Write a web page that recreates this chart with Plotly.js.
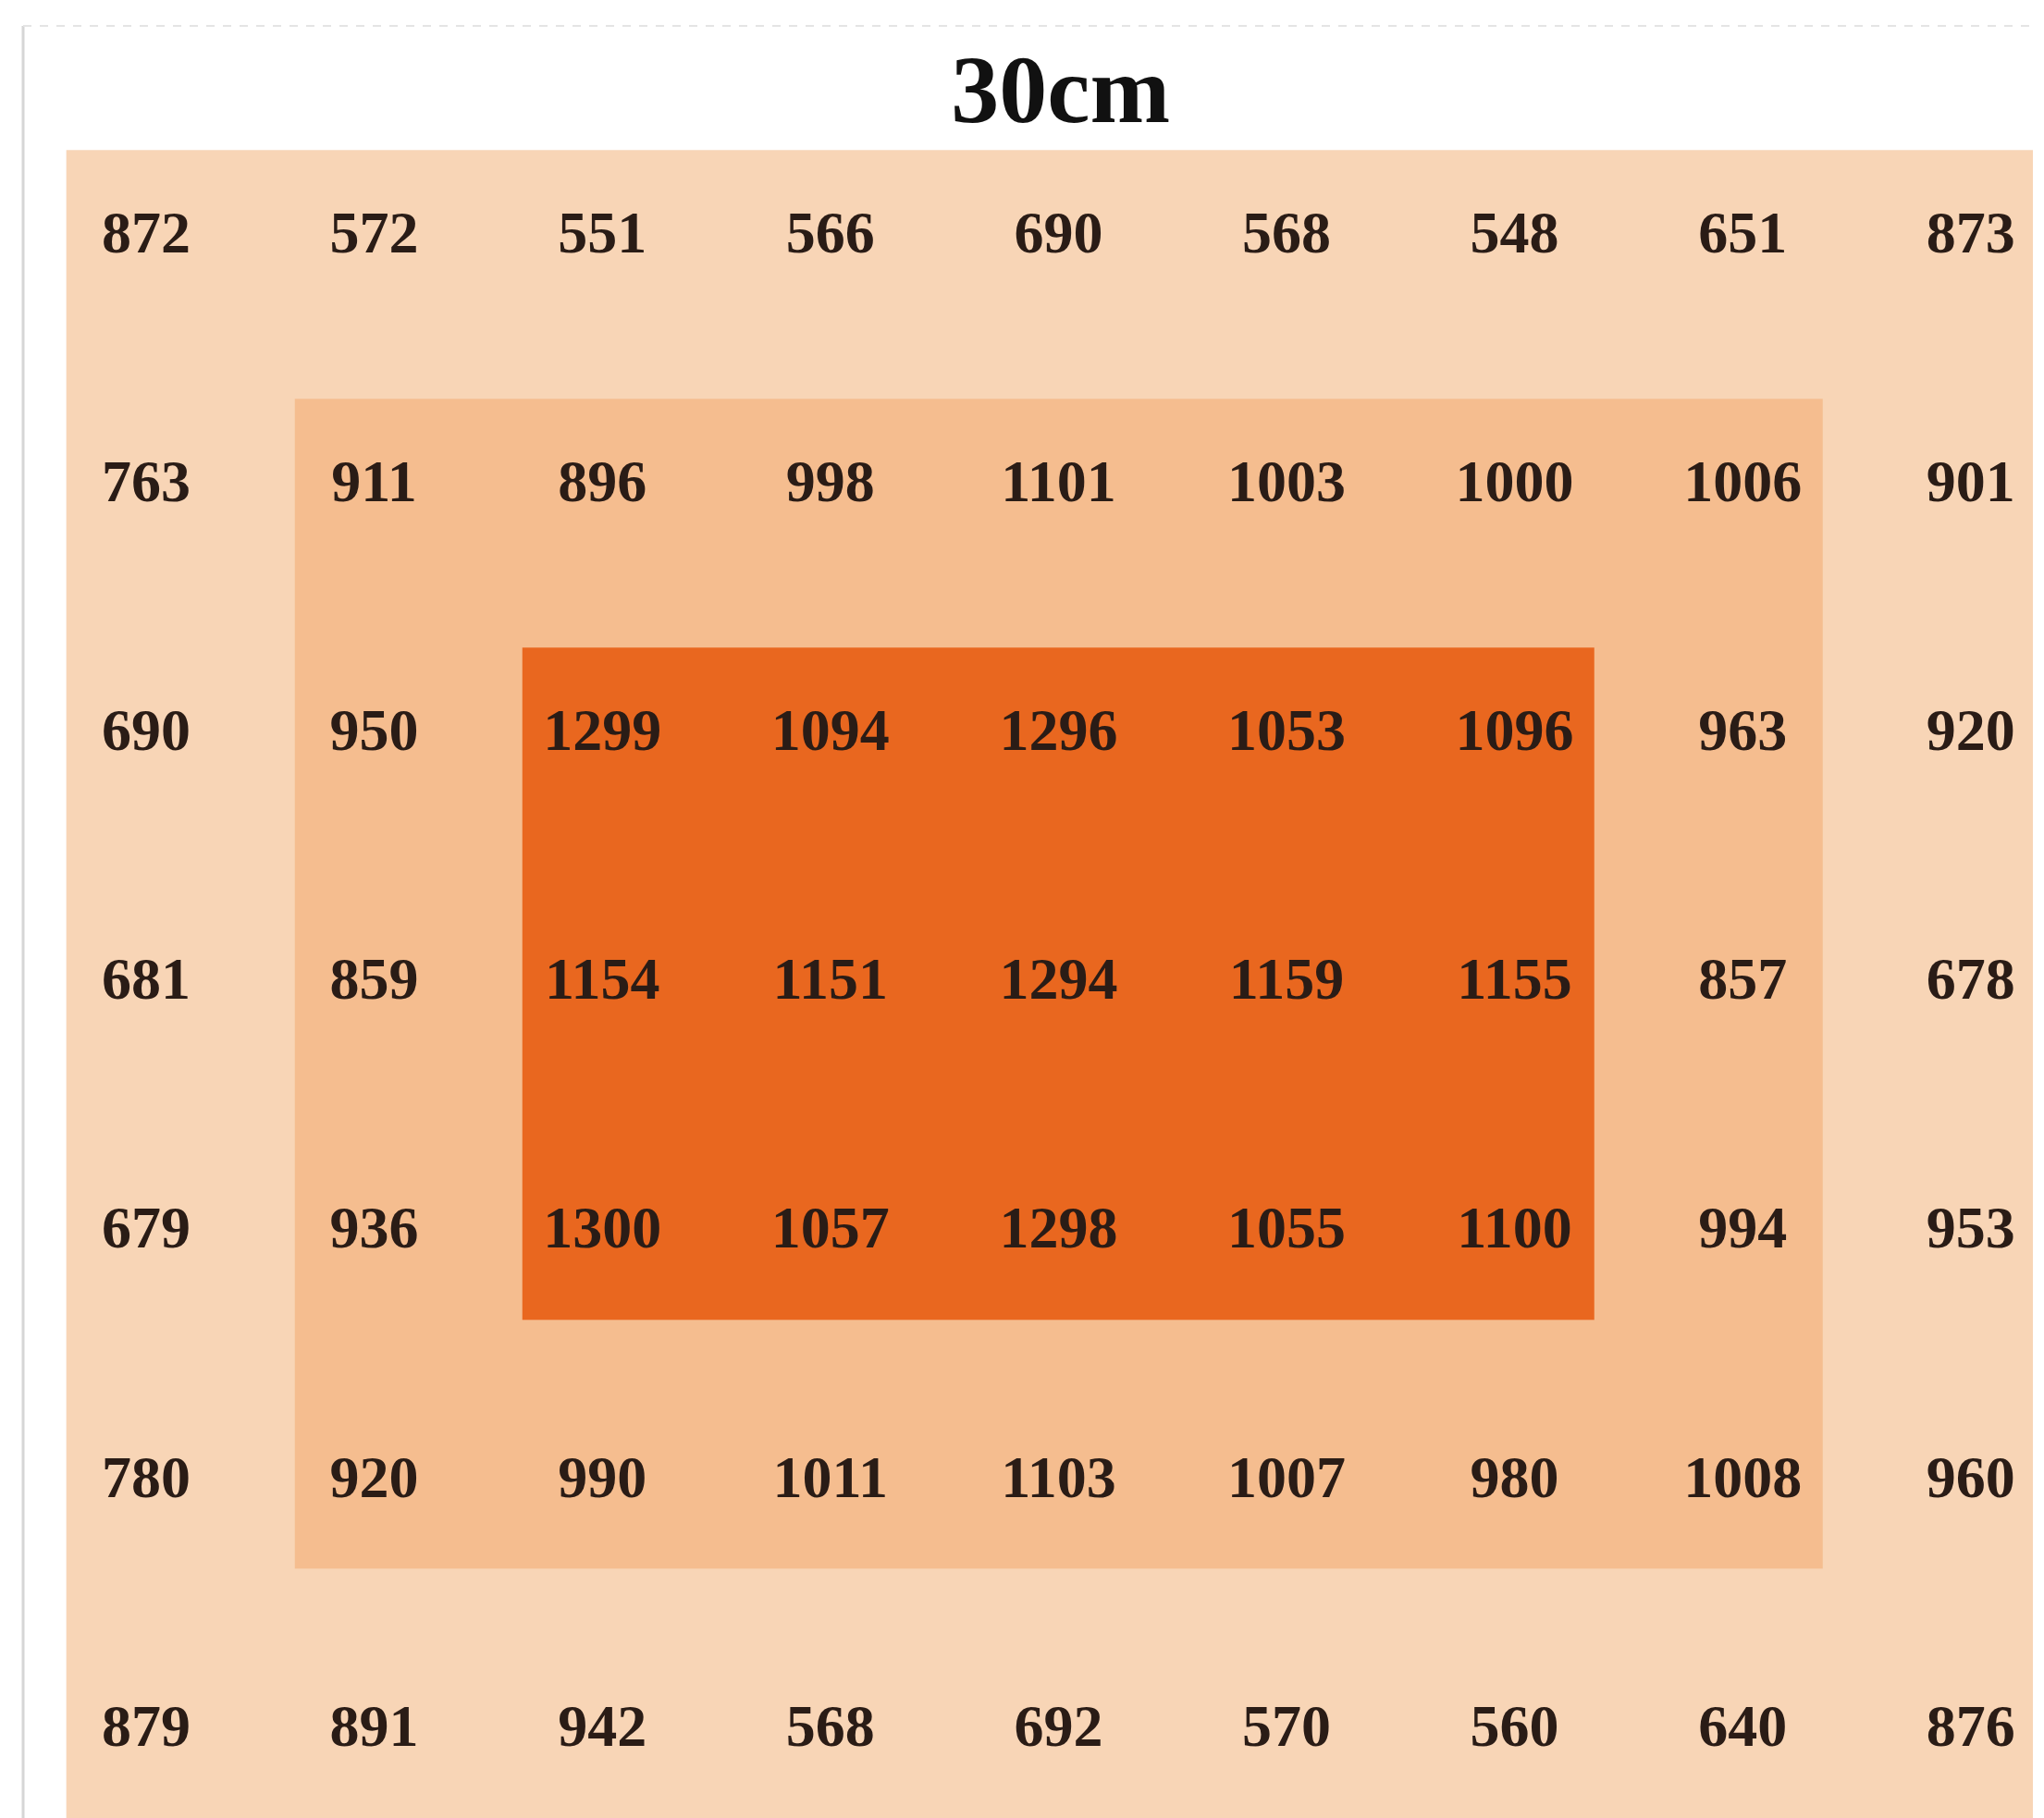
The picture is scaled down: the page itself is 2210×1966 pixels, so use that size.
<!DOCTYPE html>
<html>
<head>
<meta charset="utf-8">
<script src="https://cdn.plot.ly/plotly-3.0.1.min.js"></script>
<style>html,body{margin:0;padding:0;background:#fff;}#chart{width:2210px;height:1966px;}</style>
</head>
<body>
<div id="chart"></div>
<script>
// ---- data ----
const chartTitle = '30cm';
const columns = [0, 1, 2, 3, 4, 5, 6, 7, 8];
const rows = [0, 1, 2, 3, 4, 5, 6];
const row0 = [872, 572, 551, 566, 690, 568, 548, 651, 873];
const row1 = [763, 911, 896, 998, 1101, 1003, 1000, 1006, 901];
const row2 = [690, 950, 1299, 1094, 1296, 1053, 1096, 963, 920];
const row3 = [681, 859, 1154, 1151, 1294, 1159, 1155, 857, 678];
const row4 = [679, 936, 1300, 1057, 1298, 1055, 1100, 994, 953];
const row5 = [780, 920, 990, 1011, 1103, 1007, 980, 1008, 960];
const row6 = [879, 891, 942, 568, 692, 570, 560, 640, 876];
// zone level of each cell (0 = outer ring, 1 = middle ring, 2 = core)
const zone0 = [0, 0, 0, 0, 0, 0, 0, 0, 0];
const zone1 = [0, 1, 1, 1, 1, 1, 1, 1, 0];
const zone2 = [0, 1, 2, 2, 2, 2, 2, 1, 0];
const zone3 = [0, 1, 2, 2, 2, 2, 2, 1, 0];
const zone4 = [0, 1, 2, 2, 2, 2, 2, 1, 0];
const zone5 = [0, 1, 1, 1, 1, 1, 1, 1, 0];
const zone6 = [0, 0, 0, 0, 0, 0, 0, 0, 0];
const zoneColors = ['#f8d5b6', '#f5bd8f', '#e9671f'];

// ---- build ----
const values = [row0, row1, row2, row3, row4, row5, row6];
const zones = [zone0, zone1, zone2, zone3, zone4, zone5, zone6];
const PAD = 0.35;
function edges(n) {
  const c = (n - 1) / 2, e = [-PAD];
  for (let i = 0; i < n - 1; i++) e.push(i < c ? i + 1 - PAD : i + PAD);
  e.push(n - 1 + PAD);
  return e;
}
const xs = [], ys = [], txt = [];
rows.forEach((r, ri) => columns.forEach((c, ci) => {
  xs.push(c); ys.push(r); txt.push(String(values[ri][ci]));
}));

const heat = {
  type: 'heatmap',
  z: zones,
  x: edges(columns.length),
  y: edges(rows.length),
  zmin: 0, zmax: 2,
  colorscale: [[0, zoneColors[0]], [0.3333, zoneColors[0]], [0.3334, zoneColors[1]], [0.6666, zoneColors[1]], [0.6667, zoneColors[2]], [1, zoneColors[2]]],
  showscale: false,
  hoverinfo: 'skip'
};
const labels = {
  type: 'scatter',
  mode: 'text',
  x: xs, y: ys, text: txt,
  textposition: 'middle center',
  textfont: {family: 'Liberation Serif, serif', size: 64, color: '#2a1c16', weight: 'bold'},
  hoverinfo: 'skip',
  showlegend: false
};

// pixel geometry
const W = 2210, H = 1966, MR = 12;
const x0px = 158, dx = 246.6, y0px = 256.5, dy = 269.2;
const layout = {
  width: W, height: H,
  margin: {l: 0, r: MR, t: 0, b: 0, pad: 0},
  paper_bgcolor: '#ffffff',
  plot_bgcolor: '#ffffff',
  showlegend: false,
  title: {
    text: chartTitle,
    font: {family: 'Liberation Serif, serif', size: 104, color: '#111111', weight: 'bold'},
    x: 1153 / W, xanchor: 'center', xref: 'paper',
    y: 1 - 96 / H, yanchor: 'middle', yref: 'container'
  },
  xaxis: {range: [-x0px / dx, (W - MR - x0px) / dx], visible: false, fixedrange: true},
  yaxis: {range: [(H - y0px) / dy, -y0px / dy], visible: false, fixedrange: true},
  shapes: [
    {type: 'line', xref: 'paper', yref: 'paper', x0: 25 / (W - MR), x1: 25 / (W - MR), y0: 0, y1: 1 - 28 / H,
     line: {color: '#d6d6d6', width: 3}, layer: 'above'},
    {type: 'line', xref: 'paper', yref: 'paper', x0: 25 / (W - MR), x1: 1, y0: 1 - 28 / H, y1: 1 - 28 / H,
     line: {color: '#e4e4e4', width: 2, dash: 'dash'}, layer: 'above'}
  ]
};
Plotly.newPlot('chart', [heat, labels], layout, {displayModeBar: false, staticPlot: true});
</script>
</body>
</html>
